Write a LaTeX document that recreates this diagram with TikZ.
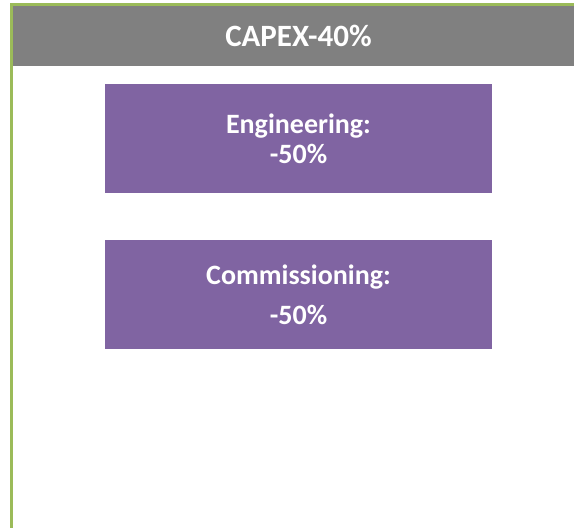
\documentclass[tikz,border=0pt]{standalone}
\usepackage{fontspec}
\setmainfont{Carlito}
\definecolor{hdrgray}{HTML}{808080}
\definecolor{boxpurple}{HTML}{8064A2}
\definecolor{framegreen}{HTML}{9BBB59}
\begin{document}
\begin{tikzpicture}[x=1pt,y=1pt,
  pbox/.style={fill=boxpurple, draw=none, minimum width=387pt, minimum height=109pt,
    inner sep=0pt, align=center, text=white, font=\bfseries\fontsize{28}{#1}\selectfont},
  hdr/.style={text=white, inner sep=0pt, font=\bfseries\fontsize{31}{34}\selectfont}]
\useasboundingbox (0,0) rectangle (574,528);
% header band
\fill[hdrgray] (13,528-66) rectangle (574,528-6);
% green frame (left and top)
\fill[framegreen] (10,528-6) rectangle (574,528-3);
\fill[framegreen] (10,0) rectangle (13,528-3);
\node[hdr, anchor=base] (title) at (298.5,528-47) {CAPEX-40\%};
\node[pbox=30] (eng) at (298.5,528-138.5) {Engineering:\\-50\%};
\node[pbox=40] (com) at (298.5,528-294.5) {Commissioning:\\-50\%};
\end{tikzpicture}
\end{document}
